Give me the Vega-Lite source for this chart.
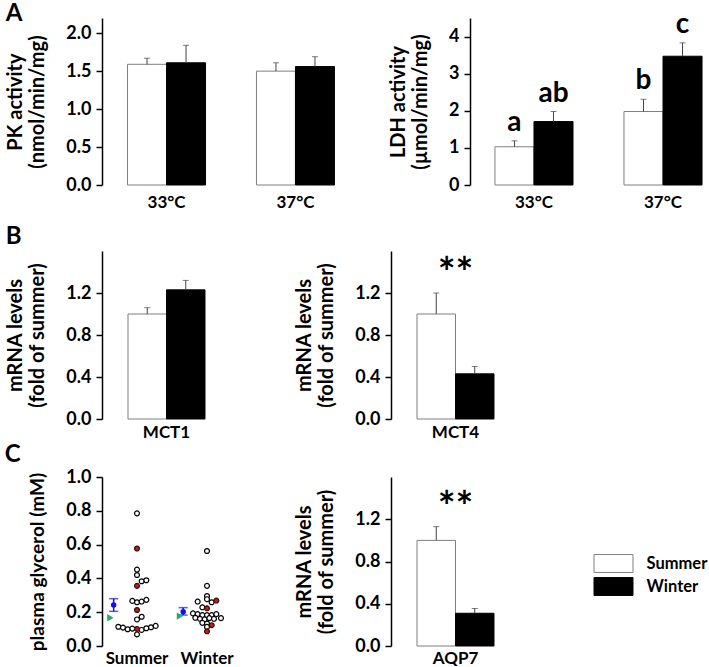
{
  "$schema": "https://vega.github.io/schema/vega-lite/v6.json",
  "padding": {"left": 4, "top": 2, "right": 0, "bottom": 0},
  "background": "white",
  "config": {
    "view": {"stroke": null},
    "font": "Lato",
    "axis": {"labelFont": "Lato", "labelFontWeight": "bold", "labelFontSize": 18, "labelColor": "black", "titleFont": "Lato", "titleFontWeight": "bold", "titleFontSize": 20, "titleColor": "black", "domainColor": "black", "domainWidth": 1.5, "tickColor": "black", "tickWidth": 1.5, "grid": false, "labelOverlap": false},
    "axisY": {"tickSize": 6, "labelPadding": 5, "titlePadding": 18, "titleLineHeight": 22},
    "axisX": {"domain": false, "ticks": false, "labelAngle": 0, "labelFontSize": 17},
    "legend": {"title": null, "orient": "none", "legendX": 501, "legendY": 535, "symbolType": "M-2,-0.92H2V0.92H-2Z", "symbolSize": 380, "symbolStrokeWidth": 1, "labelFont": "Lato", "labelFontWeight": "bold", "labelFontSize": 16.5, "labelColor": "black", "labelOffset": 22.5, "rowPadding": 0, "padding": 0}
  },
  "datasets": {
    "pk": [
      {"temp": "33°C", "season": "Summer", "value": 1.59, "err": 1.67},
      {"temp": "33°C", "season": "Winter", "value": 1.61, "err": 1.84},
      {"temp": "37°C", "season": "Summer", "value": 1.50, "err": 1.61},
      {"temp": "37°C", "season": "Winter", "value": 1.56, "err": 1.69}
    ],
    "ldh": [
      {"temp": "33°C", "season": "Summer", "value": 1.03, "err": 1.19, "letter": "a"},
      {"temp": "33°C", "season": "Winter", "value": 1.71, "err": 1.98, "letter": "ab"},
      {"temp": "37°C", "season": "Summer", "value": 1.98, "err": 2.31, "letter": "b"},
      {"temp": "37°C", "season": "Winter", "value": 3.47, "err": 3.83, "letter": "c"}
    ],
    "mct1": [
      {"gene": "MCT1", "season": "Summer", "value": 1.0, "err": 1.06},
      {"gene": "MCT1", "season": "Winter", "value": 1.23, "err": 1.32}
    ],
    "mct4": [
      {"gene": "MCT4", "season": "Summer", "value": 1.0, "err": 1.2, "sig": "**"},
      {"gene": "MCT4", "season": "Winter", "value": 0.43, "err": 0.5, "sig": ""}
    ],
    "aqp7": [
      {"gene": "AQP7", "season": "Summer", "value": 1.0, "err": 1.13, "sig": "**"},
      {"gene": "AQP7", "season": "Winter", "value": 0.31, "err": 0.355, "sig": ""}
    ],
    "gly": [
      {"group": "Summer", "slot": 0, "value": 0.785, "kind": "open"},
      {"group": "Summer", "slot": 0, "value": 0.577, "kind": "red"},
      {"group": "Summer", "slot": 0, "value": 0.452, "kind": "open"},
      {"group": "Summer", "slot": 0, "value": 0.42, "kind": "open"},
      {"group": "Summer", "slot": 1, "value": 0.383, "kind": "open"},
      {"group": "Summer", "slot": 2, "value": 0.389, "kind": "open"},
      {"group": "Summer", "slot": 0, "value": 0.356, "kind": "red"},
      {"group": "Summer", "slot": -1, "value": 0.267, "kind": "open"},
      {"group": "Summer", "slot": 0, "value": 0.259, "kind": "open"},
      {"group": "Summer", "slot": 1, "value": 0.263, "kind": "open"},
      {"group": "Summer", "slot": 2, "value": 0.273, "kind": "open"},
      {"group": "Summer", "slot": 0, "value": 0.213, "kind": "red"},
      {"group": "Summer", "slot": 1, "value": 0.173, "kind": "open"},
      {"group": "Summer", "slot": 0, "value": 0.157, "kind": "open"},
      {"group": "Summer", "slot": -4, "value": 0.114, "kind": "open"},
      {"group": "Summer", "slot": -3, "value": 0.109, "kind": "open"},
      {"group": "Summer", "slot": -2, "value": 0.099, "kind": "open"},
      {"group": "Summer", "slot": -1, "value": 0.103, "kind": "open"},
      {"group": "Summer", "slot": 0, "value": 0.069, "kind": "open"},
      {"group": "Summer", "slot": 0, "value": 0.101, "kind": "red"},
      {"group": "Summer", "slot": 1, "value": 0.095, "kind": "open"},
      {"group": "Summer", "slot": 2, "value": 0.105, "kind": "open"},
      {"group": "Summer", "slot": 3, "value": 0.111, "kind": "open"},
      {"group": "Summer", "slot": 4, "value": 0.119, "kind": "open"},
      {"group": "Winter", "slot": 0, "value": 0.562, "kind": "open"},
      {"group": "Winter", "slot": 0, "value": 0.356, "kind": "open"},
      {"group": "Winter", "slot": 0, "value": 0.296, "kind": "open"},
      {"group": "Winter", "slot": 0, "value": 0.277, "kind": "open"},
      {"group": "Winter", "slot": -2, "value": 0.263, "kind": "open"},
      {"group": "Winter", "slot": 1, "value": 0.259, "kind": "open"},
      {"group": "Winter", "slot": 2, "value": 0.269, "kind": "red"},
      {"group": "Winter", "slot": -1, "value": 0.229, "kind": "open"},
      {"group": "Winter", "slot": 0, "value": 0.223, "kind": "red"},
      {"group": "Winter", "slot": -3, "value": 0.193, "kind": "open"},
      {"group": "Winter", "slot": -2, "value": 0.189, "kind": "open"},
      {"group": "Winter", "slot": -1, "value": 0.183, "kind": "open"},
      {"group": "Winter", "slot": 0, "value": 0.183, "kind": "open"},
      {"group": "Winter", "slot": 1, "value": 0.183, "kind": "open"},
      {"group": "Winter", "slot": 2, "value": 0.189, "kind": "open"},
      {"group": "Winter", "slot": -2.5, "value": 0.167, "kind": "open"},
      {"group": "Winter", "slot": -1.5, "value": 0.161, "kind": "open"},
      {"group": "Winter", "slot": -0.5, "value": 0.157, "kind": "open"},
      {"group": "Winter", "slot": 0.5, "value": 0.165, "kind": "open"},
      {"group": "Winter", "slot": 1.5, "value": 0.161, "kind": "open"},
      {"group": "Winter", "slot": 3, "value": 0.165, "kind": "open"},
      {"group": "Winter", "slot": -1, "value": 0.137, "kind": "open"},
      {"group": "Winter", "slot": 0, "value": 0.133, "kind": "open"},
      {"group": "Winter", "slot": 1, "value": 0.123, "kind": "red"},
      {"group": "Winter", "slot": 0, "value": 0.113, "kind": "open"},
      {"group": "Winter", "slot": 0, "value": 0.087, "kind": "red"}
    ],
    "glysum": [
      {"group": "Summer", "mean": 0.243, "lo": 0.205, "hi": 0.28, "mslot": -5, "tri": 0.167, "tslot": -5.7},
      {"group": "Winter", "mean": 0.203, "lo": 0.183, "hi": 0.227, "mslot": -5.1, "tri": 0.177, "tslot": -5.8}
    ]
  },
  "resolve": {"scale": {"xOffset": "independent"}},
  "spacing": 15,
  "vconcat": [
    {
      "hconcat": [
        {
          "width": 258, "height": 167,
          "title": {"text": "A", "anchor": "start", "frame": "bounds", "fontSize": 24, "font": "Lato", "fontWeight": "bold", "baseline": "bottom", "offset": -32, "color": "black"},
          "data": {"name": "pk"},
          "encoding": {
            "x": {"field": "temp", "type": "nominal", "title": null, "scale": {"paddingInner": 0.395, "paddingOuter": 0.198}, "axis": {"labelPadding": 9}},
            "xOffset": {"field": "season", "type": "nominal", "scale": {"paddingInner": 0, "paddingOuter": 0}}
          },
          "layer": [
            {"mark": {"type": "bar", "strokeWidth": 1},
             "encoding": {
               "y": {"field": "value", "type": "quantitative", "scale": {"domain": [0, 2.2]}, "axis": {"title": ["PK activity", "(nmol/min/mg)"], "values": [0, 0.5, 1, 1.5, 2], "format": ".1f", "labelOverlap": false}},
               "fill": {"field": "season", "type": "nominal", "scale": {"domain": ["Summer", "Winter"], "range": ["white", "black"]}, "legend": {"title": null}},
               "stroke": {"field": "season", "type": "nominal", "scale": {"domain": ["Summer", "Winter"], "range": ["#7f7f7f", "black"]}, "legend": {"title": null}}
             }},
            {"mark": {"type": "rule", "color": "#444", "strokeWidth": 1}, "encoding": {"y": {"field": "value", "type": "quantitative"}, "y2": {"field": "err"}}},
            {"mark": {"type": "tick", "orient": "horizontal", "size": 6, "thickness": 1, "color": "#444"}, "encoding": {"y": {"field": "err", "type": "quantitative"}}}
          ]
        },
        {
          "width": 244, "height": 167,
          "data": {"name": "ldh"},
          "encoding": {
            "x": {"field": "temp", "type": "nominal", "title": null, "scale": {"paddingInner": 0.395, "paddingOuter": 0.143, "align": 0.676}, "axis": {"labelPadding": 9}},
            "xOffset": {"field": "season", "type": "nominal", "scale": {"paddingInner": 0, "paddingOuter": 0}}
          },
          "layer": [
            {"mark": {"type": "bar", "strokeWidth": 1},
             "encoding": {
               "y": {"field": "value", "type": "quantitative", "scale": {"domain": [0, 4.5]}, "axis": {"title": ["LDH activity", "(µmol/min/mg)"], "values": [0, 1, 2, 3, 4], "labelOverlap": false}},
               "fill": {"field": "season", "type": "nominal", "scale": {"domain": ["Summer", "Winter"], "range": ["white", "black"]}, "legend": {"title": null}},
               "stroke": {"field": "season", "type": "nominal", "scale": {"domain": ["Summer", "Winter"], "range": ["#7f7f7f", "black"]}, "legend": {"title": null}}
             }},
            {"mark": {"type": "rule", "color": "#444", "strokeWidth": 1}, "encoding": {"y": {"field": "value", "type": "quantitative"}, "y2": {"field": "err"}}},
            {"mark": {"type": "tick", "orient": "horizontal", "size": 6, "thickness": 1, "color": "#444"}, "encoding": {"y": {"field": "err", "type": "quantitative"}}},
            {"mark": {"type": "text", "fontSize": 28, "fontWeight": "bold", "font": "Lato", "baseline": "alphabetic", "dy": -10, "color": "black"}, "encoding": {"y": {"field": "err", "type": "quantitative"}, "text": {"field": "letter"}}}
          ]
        }
      ],
      "spacing": 28,
      "resolve": {"scale": {"xOffset": "independent"}}
    },
    {
      "vconcat": [
        {
          "hconcat": [
            {
              "width": 129, "height": 168,
              "title": {"text": "B", "anchor": "start", "frame": "bounds", "fontSize": 24, "font": "Lato", "fontWeight": "bold", "baseline": "bottom", "offset": -22, "color": "black"},
              "data": {"name": "mct1"},
              "encoding": {
                "x": {"field": "gene", "type": "nominal", "title": null, "scale": {"paddingInner": 0, "paddingOuter": 0.338}, "axis": {"labelPadding": 5}},
                "xOffset": {"field": "season", "type": "nominal", "scale": {"paddingInner": 0, "paddingOuter": 0}}
              },
              "layer": [
                {"mark": {"type": "bar", "strokeWidth": 1},
                 "encoding": {
                   "y": {"field": "value", "type": "quantitative", "scale": {"domain": [0, 1.5]}, "axis": {"title": ["mRNA levels", "(fold of summer)"], "values": [0, 0.4, 0.8, 1.2], "format": ".1f", "labelOverlap": false}},
                   "fill": {"field": "season", "type": "nominal", "scale": {"domain": ["Summer", "Winter"], "range": ["white", "black"]}, "legend": {"title": null}},
                   "stroke": {"field": "season", "type": "nominal", "scale": {"domain": ["Summer", "Winter"], "range": ["#7f7f7f", "black"]}, "legend": {"title": null}}
                 }},
                {"mark": {"type": "rule", "color": "#444", "strokeWidth": 1}, "encoding": {"y": {"field": "value", "type": "quantitative"}, "y2": {"field": "err"}}},
                {"mark": {"type": "tick", "orient": "horizontal", "size": 6, "thickness": 1, "color": "#444"}, "encoding": {"y": {"field": "err", "type": "quantitative"}}}
              ]
            },
            {
              "width": 129, "height": 168,
              "data": {"name": "mct4"},
              "encoding": {
                "x": {"field": "gene", "type": "nominal", "title": null, "scale": {"paddingInner": 0, "paddingOuter": 0.338}, "axis": {"labelPadding": 5}}
              },
              "layer": [
                {"mark": {"type": "bar", "strokeWidth": 1},
                 "encoding": {
                   "xOffset": {"field": "season", "type": "nominal", "scale": {"paddingInner": 0, "paddingOuter": 0}},
                   "y": {"field": "value", "type": "quantitative", "scale": {"domain": [0, 1.5]}, "axis": {"title": ["mRNA levels", "(fold of summer)"], "values": [0, 0.4, 0.8, 1.2], "format": ".1f", "labelOverlap": false}},
                   "fill": {"field": "season", "type": "nominal", "scale": {"domain": ["Summer", "Winter"], "range": ["white", "black"]}, "legend": {"title": null}},
                   "stroke": {"field": "season", "type": "nominal", "scale": {"domain": ["Summer", "Winter"], "range": ["#7f7f7f", "black"]}, "legend": {"title": null}}
                 }},
                {"mark": {"type": "rule", "color": "#444", "strokeWidth": 1}, "encoding": {"xOffset": {"field": "season", "type": "nominal"}, "y": {"field": "value", "type": "quantitative"}, "y2": {"field": "err"}}},
                {"mark": {"type": "tick", "orient": "horizontal", "size": 6, "thickness": 1, "color": "#444"}, "encoding": {"xOffset": {"field": "season", "type": "nominal"}, "y": {"field": "err", "type": "quantitative"}}},
                {"transform": [{"filter": "datum.sig != ''"}], "mark": {"type": "text", "fontSize": 42, "fontWeight": "bold", "font": "Lato", "baseline": "middle", "dy": -18, "color": "black"}, "encoding": {"y": {"field": "err", "type": "quantitative"}, "text": {"field": "sig"}}}
              ]
            }
          ],
          "spacing": 63,
          "resolve": {"scale": {"xOffset": "independent"}}
        },
        {
          "hconcat": [
            {
              "width": 140, "height": 169,
              "title": {"text": "C", "anchor": "start", "frame": "bounds", "fontSize": 24, "font": "Lato", "fontWeight": "bold", "baseline": "bottom", "offset": -23, "dx": -24, "color": "black"},
              "encoding": {
                "x": {"field": "group", "type": "nominal", "title": null, "sort": ["Summer", "Winter"], "scale": {"paddingInner": 0, "paddingOuter": 0}, "axis": {"labelPadding": 4}}
              },
              "layer": [
                {"data": {"name": "gly"}, "transform": [{"filter": "datum.kind == 'open'"}],
                 "mark": {"type": "circle", "size": 24, "fill": "white", "stroke": "black", "strokeWidth": 1.2, "opacity": 1},
                 "encoding": {
                   "xOffset": {"field": "slot", "type": "quantitative", "scale": {"domain": [-7.5, 7.5]}},
                   "y": {"field": "value", "type": "quantitative", "scale": {"domain": [0, 1]}, "axis": {"title": "plasma glycerol (mM)", "titleFontSize": 19, "values": [0, 0.2, 0.4, 0.6, 0.8, 1], "tickCount": 6, "format": ".1f", "labelOverlap": false}}
                 }},
                {"data": {"name": "gly"}, "transform": [{"filter": "datum.kind == 'red'"}],
                 "mark": {"type": "circle", "size": 24, "fill": "#b3221c", "stroke": "#3a0a08", "strokeWidth": 1.2, "opacity": 1},
                 "encoding": {
                   "xOffset": {"field": "slot", "type": "quantitative"},
                   "y": {"field": "value", "type": "quantitative", "axis": {"title": "plasma glycerol (mM)", "titleFontSize": 19, "values": [0, 0.2, 0.4, 0.6, 0.8, 1], "tickCount": 6, "format": ".1f", "labelOverlap": false}}
                 }},
                {"data": {"name": "glysum"},
                 "mark": {"type": "rule", "color": "#1010ee", "strokeWidth": 1.5},
                 "encoding": {"xOffset": {"field": "mslot", "type": "quantitative"}, "y": {"field": "lo", "type": "quantitative", "axis": {"title": "plasma glycerol (mM)", "titleFontSize": 19, "values": [0, 0.2, 0.4, 0.6, 0.8, 1], "tickCount": 6, "format": ".1f", "labelOverlap": false}}, "y2": {"field": "hi"}}},
                {"data": {"name": "glysum"},
                 "mark": {"type": "tick", "orient": "horizontal", "size": 9, "thickness": 1.5, "color": "#1010ee"},
                 "encoding": {"xOffset": {"field": "mslot", "type": "quantitative"}, "y": {"field": "lo", "type": "quantitative", "axis": {"title": "plasma glycerol (mM)", "titleFontSize": 19, "values": [0, 0.2, 0.4, 0.6, 0.8, 1], "tickCount": 6, "format": ".1f", "labelOverlap": false}}}},
                {"data": {"name": "glysum"},
                 "mark": {"type": "tick", "orient": "horizontal", "size": 9, "thickness": 1.5, "color": "#1010ee"},
                 "encoding": {"xOffset": {"field": "mslot", "type": "quantitative"}, "y": {"field": "hi", "type": "quantitative", "axis": {"title": "plasma glycerol (mM)", "titleFontSize": 19, "values": [0, 0.2, 0.4, 0.6, 0.8, 1], "tickCount": 6, "format": ".1f", "labelOverlap": false}}}},
                {"data": {"name": "glysum"},
                 "mark": {"type": "circle", "size": 30, "color": "#1010ee", "opacity": 1},
                 "encoding": {"xOffset": {"field": "mslot", "type": "quantitative"}, "y": {"field": "mean", "type": "quantitative", "axis": {"title": "plasma glycerol (mM)", "titleFontSize": 19, "values": [0, 0.2, 0.4, 0.6, 0.8, 1], "tickCount": 6, "format": ".1f", "labelOverlap": false}}}},
                {"data": {"name": "glysum"},
                 "mark": {"type": "point", "shape": "triangle-right", "filled": true, "size": 55, "color": "#1fae6a", "opacity": 1},
                 "encoding": {"xOffset": {"field": "tslot", "type": "quantitative"}, "y": {"field": "tri", "type": "quantitative", "axis": {"title": "plasma glycerol (mM)", "titleFontSize": 19, "values": [0, 0.2, 0.4, 0.6, 0.8, 1], "tickCount": 6, "format": ".1f", "labelOverlap": false}}}}
              ]
            },
            {
              "width": 129, "height": 169,
              "data": {"name": "aqp7"},
              "encoding": {
                "x": {"field": "gene", "type": "nominal", "title": null, "scale": {"paddingInner": 0, "paddingOuter": 0.338}, "axis": {"labelPadding": 4}}
              },
              "layer": [
                {"mark": {"type": "bar", "strokeWidth": 1},
                 "encoding": {
                   "xOffset": {"field": "season", "type": "nominal", "scale": {"paddingInner": 0, "paddingOuter": 0}},
                   "y": {"field": "value", "type": "quantitative", "scale": {"domain": [0, 1.5]}, "axis": {"title": ["mRNA levels", "(fold of summer)"], "values": [0, 0.4, 0.8, 1.2], "format": ".1f", "labelOverlap": false}},
                   "fill": {"field": "season", "type": "nominal", "scale": {"domain": ["Summer", "Winter"], "range": ["white", "black"]}, "legend": {"title": null}},
                   "stroke": {"field": "season", "type": "nominal", "scale": {"domain": ["Summer", "Winter"], "range": ["#7f7f7f", "black"]}, "legend": {"title": null}}
                 }},
                {"mark": {"type": "rule", "color": "#444", "strokeWidth": 1}, "encoding": {"xOffset": {"field": "season", "type": "nominal"}, "y": {"field": "value", "type": "quantitative"}, "y2": {"field": "err"}}},
                {"mark": {"type": "tick", "orient": "horizontal", "size": 6, "thickness": 1, "color": "#444"}, "encoding": {"xOffset": {"field": "season", "type": "nominal"}, "y": {"field": "err", "type": "quantitative"}}},
                {"transform": [{"filter": "datum.sig != ''"}], "mark": {"type": "text", "fontSize": 42, "fontWeight": "bold", "font": "Lato", "baseline": "middle", "dy": -18, "color": "black"}, "encoding": {"y": {"field": "err", "type": "quantitative"}, "text": {"field": "sig"}}}
              ]
            }
          ],
          "spacing": 52,
          "resolve": {"scale": {"xOffset": "independent"}}
        }
      ],
      "spacing": 3,
      "resolve": {"scale": {"xOffset": "independent"}}
    }
  ]
}
